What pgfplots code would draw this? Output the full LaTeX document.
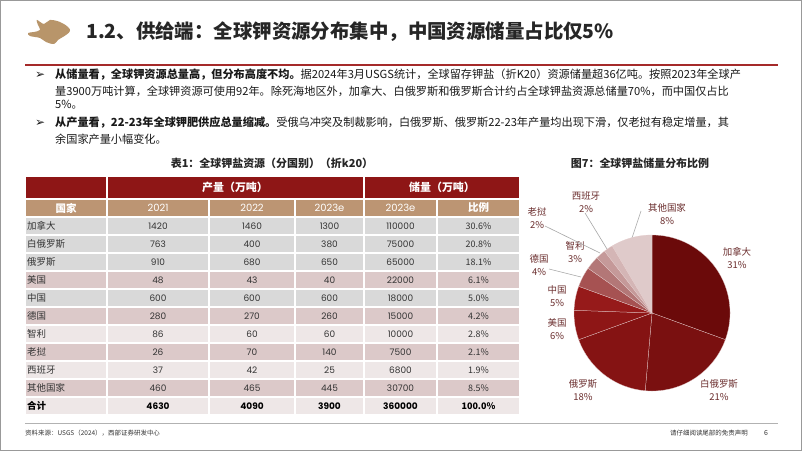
\documentclass[border=0pt]{standalone}
\usepackage{pgfplots}
\pgfplotsset{compat=1.18}
\usepackage{fontspec}
\setmainfont{Noto Sans CJK SC}
\newfontfamily\dejavu{DejaVu Sans}
\newfontfamily\numf{Poppins}
\definecolor{hdr}{HTML}{8E1616}
\definecolor{tanc}{HTML}{BC9573}
\definecolor{rowg}{HTML}{D9D9D9}
\definecolor{rowp}{HTML}{DCC9C9}
\definecolor{rowl}{HTML}{EEE7E7}
\definecolor{txt}{HTML}{333333}
\definecolor{logo}{HTML}{B8956A}
\definecolor{redline}{HTML}{A52A2A}
\definecolor{lbl}{HTML}{6B2E2E}
% pie slice colours
\definecolor{p1}{HTML}{6B0A0A}
\definecolor{p2}{HTML}{7A1010}
\definecolor{p3}{HTML}{851313}
\definecolor{p4}{HTML}{8E1616}
\definecolor{p5}{HTML}{961A1A}
\definecolor{p6}{HTML}{A65252}
\definecolor{p7}{HTML}{B37777}
\definecolor{p8}{HTML}{C59999}
\definecolor{p9}{HTML}{D4B5B5}
\definecolor{p10}{HTML}{DFCACA}
\begin{document}
\begin{tikzpicture}
\begin{scope}[x=1bp,y=-1bp]
% page
\fill[white] (0,0) rectangle (802,451);
\draw[gray!80, line width=1.2bp] (0.6,0.6) rectangle (801.4,450.4);
% logo
\fill[logo] plot[smooth cycle, tension=0.6] coordinates {(37,20) (44,24) (50,20) (60,22) (68,27) (70,31) (66,35) (58,40) (54,44) (46,42) (40,38) (30,36) (28,33) (34,32) (40,30) (38,25)};
% title
\node[anchor=west, inner sep=0, font=\fontsize{19.5}{21}\selectfont\bfseries, text=black!85] at (86,32) {1.2、供给端：全球钾资源分布集中，中国资源储量占比仅5\%};
\draw[redline, line width=2bp] (25,65) -- (778,65);
% bullets
\begin{scope}[every node/.style={anchor=west, inner sep=0, font=\fontsize{11.2}{13}\selectfont, text=black!90}]
\node[font=\dejavu\fontsize{12}{12}\selectfont] at (35,75) {➢};
\node at (55,75) {\textbf{从储量看，全球钾资源总量高，但分布高度不均。}据2024年3月USGS统计，全球留存钾盐（折K20）资源储量超36亿吨。按照2023年全球产};
\node at (55,91) {量3900万吨计算，全球钾资源可使用92年。除死海地区外，加拿大、白俄罗斯和俄罗斯合计约占全球钾盐资源总储量70\%，而中国仅占比};
\node at (55,105) {5\%。};
\node[font=\dejavu\fontsize{12}{12}\selectfont] at (35,123) {➢};
\node at (55,123) {\textbf{从产量看，22-23年全球钾肥供应总量缩减。}受俄乌冲突及制裁影响，白俄罗斯、俄罗斯22-23年产量均出现下滑，仅老挝有稳定增量，其};
\node at (55,139) {余国家产量小幅变化。};
\end{scope}
% table title
\node[font=\fontsize{11}{12}\selectfont\bfseries, text=black!85] at (272,163) {表1：全球钾盐资源（分国别）（折k20）};
% table cells
\begin{scope}[draw=white, line width=1.5bp]
\filldraw[fill=hdr] (25,176) rectangle (107,199);
\filldraw[fill=hdr] (107,176) rectangle (364,199);
\filldraw[fill=hdr] (364,176) rectangle (520,199);
\foreach \xa/\xb in {25/107,107/209,209/295,295/364,364/437,437/520}
  \filldraw[fill=tanc] (\xa,199) rectangle (\xb,217);
\foreach \c [count=\i from 0] in {rowg,rowg,rowg,rowp,rowg,rowp,rowl,rowp,rowl,rowp,rowl}
  \foreach \xa/\xb in {25/107,107/209,209/295,295/364,364/437,437/520}
    \filldraw[fill=\c] (\xa,{217+18*\i}) rectangle (\xb,{235+18*\i});
\end{scope}
\node[text=white, font=\fontsize{11}{12}\selectfont\bfseries] at (235,187.5) {产量（万吨）};
\node[text=white, font=\fontsize{11}{12}\selectfont\bfseries] at (442,187.5) {储量（万吨）};
\begin{scope}[every node/.style={text=white, font=\fontsize{10.5}{12}\selectfont\bfseries}]
\node at (66,208) {国家};
\node[font=\numf\fontsize{10}{12}\selectfont] at (158,208) {2021};
\node[font=\numf\fontsize{10}{12}\selectfont] at (252,208) {2022};
\node[font=\numf\fontsize{10}{12}\selectfont] at (329.5,208) {2023e};
\node[font=\numf\fontsize{10}{12}\selectfont] at (400.5,208) {2023e};
\node at (478.5,208) {比例};
\end{scope}
\foreach \n/\a/\b/\c/\d/\e [count=\i from 0] in {加拿大/1420/1460/1300/110000/30.6,白俄罗斯/763/400/380/75000/20.8,俄罗斯/910/680/650/65000/18.1,美国/48/43/40/22000/6.1,中国/600/600/600/18000/5.0,德国/280/270/260/15000/4.2,智利/86/60/60/10000/2.8,老挝/26/70/140/7500/2.1,西班牙/37/42/25/6800/1.9,其他国家/460/465/445/30700/8.5}{
  \node[anchor=west, inner sep=0, text=txt, font=\fontsize{9.5}{11}\selectfont] at (27,{226+18*\i}) {\n};
  \begin{scope}[every node/.style={text=txt, font=\numf\fontsize{9}{11}\selectfont}]
  \node at (158,{226+18*\i}) {\a};
  \node at (252,{226+18*\i}) {\b};
  \node at (329.5,{226+18*\i}) {\c};
  \node at (400.5,{226+18*\i}) {\d};
  \node[font=\fontsize{9}{11}\selectfont] at (478.5,{226+18*\i}) {\e\%};
  \end{scope}
}
\node[anchor=west, inner sep=0, text=black, font=\fontsize{9.5}{11}\selectfont\bfseries] at (27,406) {合计};
\begin{scope}[every node/.style={text=black, font=\numf\bfseries\fontsize{9}{11}\selectfont}]
\node at (158,406) {4630};
\node at (252,406) {4090};
\node at (329.5,406) {3900};
\node at (400.5,406) {360000};
\node[font=\bfseries\fontsize{9}{11}\selectfont] at (478.5,406) {100.0\%};
\end{scope}
% pie title
\node[font=\fontsize{11}{12}\selectfont\bfseries, text=black!85] at (640,163) {图7：全球钾盐储量分布比例};
% pie labels
\begin{scope}[every node/.style={align=center, inner sep=0, font=\fontsize{9.5}{12.5}\selectfont, text=lbl}]
\node at (737,258) {加拿大\\31\%};
\node at (719,390) {白俄罗斯\\21\%};
\node at (583,390) {俄罗斯\\18\%};
\node at (557,329) {美国\\6\%};
\node at (557,296) {中国\\5\%};
\node at (539,265) {德国\\4\%};
\node at (575,252) {智利\\3\%};
\node at (537,218) {老挝\\2\%};
\node at (586,202) {西班牙\\2\%};
\node at (667,214) {其他国家\\8\%};
\end{scope}
\draw[gray!70, line width=0.6bp] (545,226) -- (600,253);
\draw[gray!70, line width=0.6bp] (549,269) -- (581,277);
\draw[gray!70, line width=0.6bp] (585,213) -- (607,249);
\draw[gray!70, line width=0.6bp] (641,211) -- (632,238);
% footer
\draw[gray!60, line width=0.6bp] (25,423) -- (778,423);
\node[anchor=west, inner sep=0, font=\fontsize{6.5}{8}\selectfont, text=black!80] at (25,433) {资料来源：USGS（2024），西部证券研发中心};
\node[anchor=east, inner sep=0, font=\fontsize{6.5}{8}\selectfont, text=black!80] at (748,433) {请仔细阅读尾部的免责声明};
\node[inner sep=0, font=\fontsize{7}{8}\selectfont, text=black!80] at (766,433) {6};
\end{scope}
% pie chart: reserves (10k t), total 360000 -> 1 degree per 1000
% cumulative from 12 o'clock clockwise: 110000,75000,65000,22000,18000,15000,10000,7500,6800,30700
\begin{axis}[at={(652bp,-313bp)}, anchor=center, width=156bp, height=156bp,
  scale only axis, xmin=-1, xmax=1, ymin=-1, ymax=1, hide axis, clip=false,
  every axis plot/.append style={draw=white!70!p6, line width=0.25bp, samples=90}]
\addplot[fill=p1, domain=-20:90] ({cos(x)},{sin(x)}) -- (axis cs:0,0) -- cycle;
\addplot[fill=p2, domain=-95:-20] ({cos(x)},{sin(x)}) -- (axis cs:0,0) -- cycle;
\addplot[fill=p3, domain=-160:-95] ({cos(x)},{sin(x)}) -- (axis cs:0,0) -- cycle;
\addplot[fill=p4, domain=-182:-160] ({cos(x)},{sin(x)}) -- (axis cs:0,0) -- cycle;
\addplot[fill=p5, domain=-200:-182] ({cos(x)},{sin(x)}) -- (axis cs:0,0) -- cycle;
\addplot[fill=p6, domain=-215:-200] ({cos(x)},{sin(x)}) -- (axis cs:0,0) -- cycle;
\addplot[fill=p7, domain=-225:-215] ({cos(x)},{sin(x)}) -- (axis cs:0,0) -- cycle;
\addplot[fill=p8, domain=-232.5:-225] ({cos(x)},{sin(x)}) -- (axis cs:0,0) -- cycle;
\addplot[fill=p9, domain=-239.3:-232.5] ({cos(x)},{sin(x)}) -- (axis cs:0,0) -- cycle;
\addplot[fill=p10, domain=-270:-239.3] ({cos(x)},{sin(x)}) -- (axis cs:0,0) -- cycle;
\end{axis}
\end{tikzpicture}
\end{document}
